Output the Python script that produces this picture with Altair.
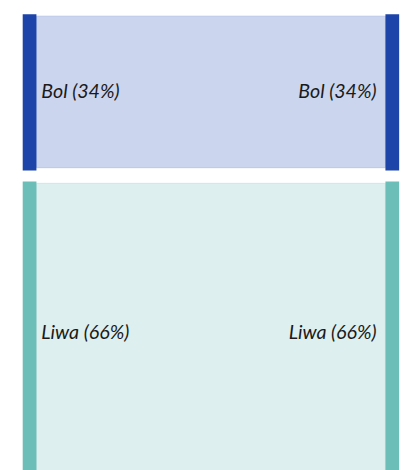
import altair as alt
import pandas as pd

categories = ["Bol", "Liwa"]
values = [34, 66]
node_colors = ["#1d44a8", "#6bbfb8"]
link_colors = ["#cbd5ed", "#ddefef"]
link_strokes = ["#b9c7ea", "#cfe7e6"]
sides = [0, 1]

total = sum(values)
rows = []
cum = 0
for i, (c, v) in enumerate(zip(categories, values)):
    pct = round(100 * v / total)
    rows.append({"cat": c, "value": v, "y0": cum, "y1": cum + v, "idx": i,
                 "label": f"{c} ({pct}%)"})
    cum += v
links = pd.DataFrame(rows)
links["x0"] = sides[0]
links["x1"] = sides[1]
nodes = pd.concat([links.assign(side=s) for s in sides], ignore_index=True)

xs = alt.Scale(domain=[0, 1], range=[22, 392])
ys = alt.Scale(domain=[0, total], range=[1.5, 470.5])
cscale_node = alt.Scale(domain=categories, range=node_colors)
cscale_link = alt.Scale(domain=categories, range=link_colors)
cscale_stroke = alt.Scale(domain=categories, range=link_strokes)

gap = "datum.idx * 11"

link_layer = alt.Chart(links).mark_rect(
    xOffset=7, x2Offset=-7,
    yOffset=alt.ExprRef(gap + " + 2"), y2Offset=alt.ExprRef(gap + " - 3"),
    strokeWidth=1,
).encode(
    x=alt.X("x0:Q", scale=xs, axis=None),
    x2="x1:Q",
    y=alt.Y("y0:Q", scale=ys, axis=None),
    y2="y1:Q",
    fill=alt.Color("cat:N", scale=cscale_link, legend=None),
    stroke=alt.Stroke("cat:N", scale=cscale_stroke, legend=None),
)

node_layer = alt.Chart(nodes).mark_rect(
    xOffset=-7, x2Offset=7,
    yOffset=alt.ExprRef(gap), y2Offset=alt.ExprRef(gap),
).encode(
    x=alt.X("side:Q", scale=xs, axis=None),
    x2="side:Q",
    y=alt.Y("y0:Q", scale=ys, axis=None),
    y2="y1:Q",
    fill=alt.Color("cat:N", scale=cscale_node, legend=None),
)

text_base = alt.Chart(nodes).transform_calculate(
    ymid="(datum.y0 + datum.y1) / 2"
)
text_common = dict(font="Lato", fontStyle="italic", fontSize=20,
                   color="#1a1a1a", baseline="middle",
                   yOffset=alt.ExprRef(gap))
left_text = text_base.transform_filter("datum.side == 0").mark_text(
    align="left", dx=12, **text_common
).encode(
    x=alt.X("side:Q", scale=xs, axis=None),
    y=alt.Y("ymid:Q", scale=ys, axis=None),
    text="label:N",
)
right_text = text_base.transform_filter("datum.side == 1").mark_text(
    align="right", dx=-16, **text_common
).encode(
    x=alt.X("side:Q", scale=xs, axis=None),
    y=alt.Y("ymid:Q", scale=ys, axis=None),
    text="label:N",
)

chart = alt.layer(link_layer, node_layer, left_text, right_text).resolve_scale(
    fill="independent", stroke="independent"
).properties(
    width=407, height=490,
    autosize=alt.AutoSizeParams(type="none"),
    padding=0,
    background="white",
).configure_view(stroke=None)

chart.save("out.html", embed_options={"renderer": "svg", "actions": False})
